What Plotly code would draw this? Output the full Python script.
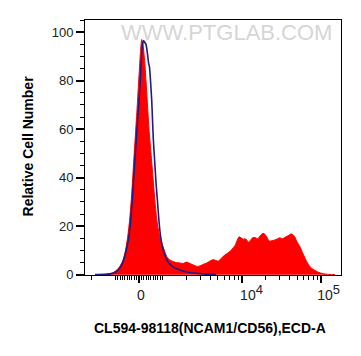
import math
import plotly.graph_objects as go

# ---- data (x in display channel units of the biexponential axis) ----
red_ch = [15, 23, 28, 32, 35, 38, 40.5, 42.5, 44.5, 46.5, 48.3, 50, 52, 54, 55.5, 56.7,
          58, 59.5, 61, 62.5, 64, 66, 68, 70, 72, 74, 76, 78, 81.7, 85, 88.3, 91, 95,
          98, 101.7, 105, 108.3, 112, 115, 118, 121.7, 125, 128.3, 131, 133.3, 136,
          138.3, 141.7, 145, 148, 150, 152, 154, 156, 158.3, 160, 162, 163.5, 165.5,
          167.5, 170, 173, 175, 177, 179, 181.7, 183.5, 185, 187, 190, 192.5, 195, 197,
          198.5, 200, 202, 204, 206, 208, 210, 212, 215, 217, 219, 221.7, 223.5, 225,
          228, 231, 234, 237, 240, 245, 250]
red_count = [0, 0.2, 0.8, 2, 3.5, 6, 10, 15, 22, 32, 44, 55, 68, 82, 92, 97,
             95, 89, 80, 70, 60, 50, 40, 30, 22, 17, 13.5, 11.5, 7.5, 6, 5.4, 5, 4.8,
             4.6, 5.2, 4.6, 4.0, 3.4, 3.6, 4.2, 4.8, 5.6, 6.2, 5.8, 5.6, 6.6,
             7.6, 8.6, 9.6, 11, 12, 14, 15.6, 15.2, 14.6, 14.8, 14.2, 13.4, 14.2,
             15.2, 15.3, 14.8, 16, 16.8, 17, 15.6, 14.2, 13.8, 14, 14.3, 14.8, 15.2, 14.8,
             15, 15.4, 15.8, 16.3, 16.8, 16.5, 15.4, 13.6, 11.5, 9.6, 7.8, 5.4, 4.2, 3.3,
             2.2, 1.5, 0.9, 0.5, 0.25, 0.05, 0]

blue_ch = [10, 20, 25, 30, 33.3, 36, 39, 41.7, 44, 46, 48, 50, 52, 54, 55.5, 56.5,
           57.5, 58.5, 59.5, 61, 62.5, 63.5, 64.5, 65.5, 66.7, 67.5, 68.3, 69.5, 71,
           72.5, 74, 75.5, 77, 78.5, 80, 81.7, 85, 88.3, 92, 95, 101, 108, 115, 125, 131]
blue_count = [0, 0.1, 0.3, 0.9, 1.9, 3.5, 6.5, 11, 16, 24, 35, 48, 60, 72, 82, 90,
              95, 96.5, 96, 95, 91, 87.5, 85.5, 80, 72, 64, 56, 48, 38,
              30, 22, 16, 12.5, 9.8, 8, 6.2, 4.3, 3.1, 2.4, 1.9, 1.2, 0.7, 0.4, 0.15, 0]

major_vals = [0, 1e4, 1e5]
major_text = ["\u00a00",
              "\u00a0\u00a0\u00a0\u00a0\u00a010<sup><span style='font-size:13px'>4</span></sup>",
              "\u00a0\u00a0\u00a0\u00a010<sup><span style='font-size:13px'>5</span></sup>"]
minor_vals = ([-2000, -1000] + [-k * 100 for k in range(1, 10)] + [k * 100 for k in range(1, 10)]
              + [1000] + [k * 1000 for k in range(2, 10)] + [k * 10000 for k in range(2, 10)])
y_ticks = [0, 20, 40, 60, 80, 100]


def to_channel(v):
    """Biexponential-style display transform used by the x axis."""
    if abs(v) <= 1000:
        return 54 + 23.7 * v / 1000
    s = 1 if v > 0 else -1
    return 54 + s * (23.7 + 79.1 * math.log10(abs(v) / 1000))


fig = go.Figure()
fig.add_trace(go.Scatter(x=red_ch, y=red_count, mode="lines", fill="tozeroy",
                         fillcolor="#ff0000", line=dict(color="#ff0000", width=1, shape="spline", smoothing=0.6),
                         hoverinfo="skip"))
fig.add_trace(go.Scatter(x=blue_ch, y=blue_count, mode="lines",
                         line=dict(color="#1e1a86", width=1.6, shape="spline", smoothing=0.6),
                         hoverinfo="skip"))

font = "Arial, Liberation Sans, sans-serif"
fig.update_layout(
    width=353, height=348,
    margin=dict(l=77, r=20, t=12, b=81),
    paper_bgcolor="white", plot_bgcolor="white",
    showlegend=False,
    font=dict(family=font, color="#222"),
    xaxis=dict(range=[0, 256], showline=True, linecolor="black", linewidth=1, mirror=True,
               showgrid=False, zeroline=False,
               tickmode="array", tickvals=[to_channel(v) for v in major_vals], ticktext=major_text,
               ticks="outside", ticklen=7, tickwidth=2, tickcolor="black",
               tickfont=dict(size=14, color="#222", family=font),
               minor=dict(tickmode="array", tickvals=[to_channel(v) for v in minor_vals],
                          ticks="outside", ticklen=4, tickwidth=1, tickcolor="black")),
    yaxis=dict(range=[-0.15, 105.05], showline=True, linecolor="black", linewidth=1, mirror=True,
               showgrid=False, zeroline=False,
               tickmode="array", tickvals=y_ticks,
               ticks="outside", ticklen=8, tickwidth=2, tickcolor="black",
               tickfont=dict(size=13, color="#222", family=font),
               minor=dict(dtick=5, tick0=0, ticks="outside", ticklen=4, tickwidth=1, tickcolor="black")),
    annotations=[
        dict(text="<b>Relative Cell Number</b>", xref="paper", yref="paper", x=-0.2227, y=0.508,
             xanchor="center", yanchor="middle", textangle=-90, showarrow=False,
             font=dict(size=14, color="black", family=font)),
        dict(text="<b>CL594-98118(NCAM1/CD56),ECD-A</b>", xref="paper", yref="paper", x=0.488, y=-0.206,
             xanchor="center", yanchor="middle", showarrow=False,
             font=dict(size=14, color="black", family=font)),
        dict(text="WWW.PTGLAB.COM", xref="paper", yref="paper", x=0.551, y=0.95,
             xanchor="center", yanchor="middle", showarrow=False,
             font=dict(size=22, color="#d6d6d6", family=font)),
    ],
)

fig.write_html("out.html")
